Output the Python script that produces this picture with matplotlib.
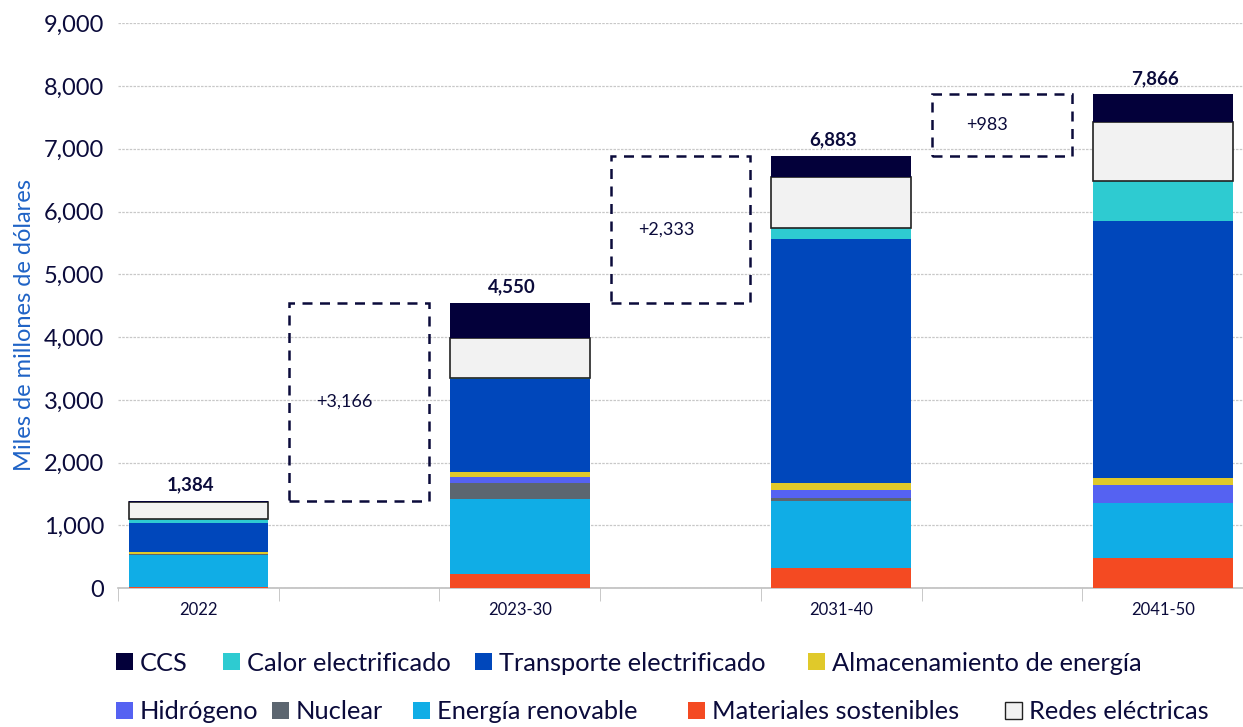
import matplotlib.pyplot as plt
from matplotlib.patches import Patch, Rectangle
import numpy as np

plt.rcParams['font.family'] = ['Lato', 'DejaVu Sans']

# data (miles de millones de dólares)
periods = ["2022", "2023-30", "2031-40", "2041-50"]
totals = [1384, 4550, 6883, 7866]
increments = ["+3,166", "+2,333", "+983"]

materiales = [25, 225, 313, 480]
renovable = [505, 1194, 1072, 870]
nuclear = [15, 260, 59, 10]
hidrogeno = [5, 85, 116, 280]
almacenamiento = [25, 90, 123, 120]
transporte = [464, 1476, 3874, 4090]
calor = [55, 25, 180, 630]
redes = [280, 637, 813, 940]
ccs = [10, 558, 333, 446]

# stacking order, bottom to top
series = [
    ("Materiales sostenibles", materiales, "#f44a22"),
    ("Energía renovable", renovable, "#10ade6"),
    ("Nuclear", nuclear, "#5c6670"),
    ("Hidrógeno", hidrogeno, "#5562f2"),
    ("Almacenamiento de energía", almacenamiento, "#e0c92a"),
    ("Transporte electrificado", transporte, "#0047bb"),
    ("Calor electrificado", calor, "#2ecbd1"),
    ("Redes eléctricas", redes, "#f2f2f2"),
    ("CCS", ccs, "#03003a"),
]
colors = {name: c for name, _, c in series}

navy = "#0b0b3b"
bar_x = np.arange(len(periods)) * 2
gap_x = bar_x[:-1] + 1
width = 0.87

fig = plt.figure(figsize=(12.43, 7.27), dpi=100)
ax = fig.add_axes([0.095, 0.191, 0.905, 0.777])

bottom = np.zeros(len(periods))
for name, vals, c in series:
    vals = np.array(vals, dtype=float)
    if name == "Redes eléctricas":
        ax.bar(bar_x, vals, width, bottom=bottom, color=c,
               edgecolor="#222222", linewidth=1.2, zorder=3)
    else:
        ax.bar(bar_x, vals, width, bottom=bottom, color=c,
               linewidth=0, zorder=3)
    bottom += vals

for x, t in zip(bar_x, totals):
    ax.text(x - 0.05, t + 120, f"{t:,}", ha="center", va="bottom",
            fontsize=13.5, fontweight="bold", color=navy)

# dashed boxes for increments
for i, x in enumerate(gap_x):
    lo, hi = totals[i], totals[i + 1]
    ax.add_patch(Rectangle((x - width / 2, lo), width, hi - lo, fill=False,
                           edgecolor=navy, linewidth=1.8,
                           linestyle=(0, (4, 3)), zorder=3))
    ax.text(x - 0.09, (lo + hi) / 2, increments[i], ha="center", va="center",
            fontsize=13, color=navy)

ax.set_xlim(-0.5, 6.5)
ax.set_ylim(0, 9000)
ax.set_yticks(range(0, 9001, 1000))
ax.set_yticklabels([f"{v:,}" for v in range(0, 9001, 1000)],
                   fontsize=17, color=navy)
ax.set_xticks(bar_x)
ax.set_xticklabels(periods, fontsize=12, color=navy)
ax.set_xticks(np.arange(-0.5, 6.6, 1), minor=True)
ax.tick_params(axis="x", which="major", length=0, pad=10)
ax.tick_params(axis="x", which="minor", length=9, color="#bfbfbf")
ax.tick_params(axis="y", length=0, pad=10)

ax.grid(axis="y", color="#c8c8c8", linestyle=(0, (2, 1)), linewidth=0.9, zorder=0)
for s in ["top", "right", "left"]:
    ax.spines[s].set_visible(False)
ax.spines["bottom"].set_color("#bfbfbf")
ax.spines["bottom"].set_linewidth(1.2)

ax.set_ylabel("Miles de millones de dólares", fontsize=17, color="#1f63c6")
ax.yaxis.set_label_coords(-0.074, 0.465)


def handle(name):
    if name == "Redes eléctricas":
        return Patch(facecolor=colors[name], edgecolor="#222222", linewidth=1)
    return Patch(facecolor=colors[name], edgecolor="none")


# legend items placed one by one to follow the reference's uneven spacing
legend_rows = [
    (0.088, [("CCS", 116), ("Calor electrificado", 223),
             ("Transporte electrificado", 475),
             ("Almacenamiento de energía", 808)]),
    (0.021, [("Hidrógeno", 116), ("Nuclear", 272), ("Energía renovable", 413),
             ("Materiales sostenibles", 688), ("Redes eléctricas", 1005)]),
]
for y, items in legend_rows:
    for name, px in items:
        fig.legend([handle(name)], [name], loc="center left",
                   bbox_to_anchor=(px / 1243, y), frameon=False,
                   fontsize=18.3, handlelength=0.68, handleheight=0.68,
                   handletextpad=0.25, borderpad=0, borderaxespad=0,
                   labelcolor=navy)

fig.savefig("out.png", dpi=100)
